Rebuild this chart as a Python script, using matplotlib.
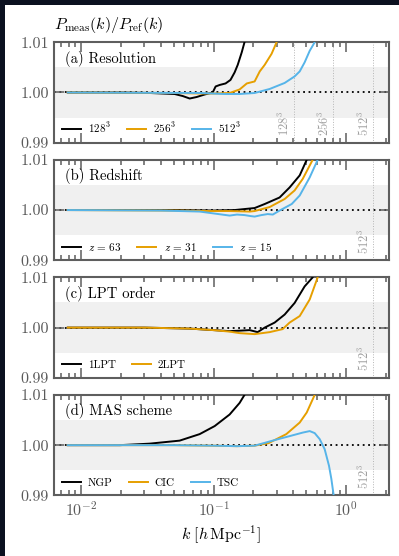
import numpy as np
import matplotlib
matplotlib.use('Agg')
import matplotlib.pyplot as plt
from matplotlib.patches import Rectangle
from matplotlib.ticker import LogLocator, FixedLocator, NullFormatter

plt.rcParams['font.family'] = 'serif'
plt.rcParams['font.serif'] = ['cmr10']
plt.rcParams['mathtext.fontset'] = 'cm'
plt.rcParams['axes.formatter.use_mathtext'] = True
plt.rcParams['axes.unicode_minus'] = False

# colours
BLACK = 'black'
ORANGE = '#E69F00'
BLUE = '#56B4E9'
EDGE = '#5e5e5e'

# nyquist wavenumbers (L = 1000 Mpc/h)
k_nyq = [0.402, 0.804, 1.608]
nyq_labels = ['$128^3$', '$256^3$', '$512^3$']

# (a) resolution
k_a128 = [0.0079, 0.02, 0.033, 0.0507, 0.0583, 0.0659, 0.0744, 0.0855, 0.0983, 0.1035, 0.111, 0.123, 0.134, 0.144, 0.152, 0.163, 0.171, 0.185]
r_a128 = [1.0, 1.0, 0.9999, 0.9997, 0.9993, 0.9988, 0.9991, 0.9996, 1.0, 1.0012, 1.0015, 1.0018, 1.0025, 1.004, 1.0055, 1.008, 1.01, 1.014]
k_a256 = [0.0079, 0.05, 0.0784, 0.1018, 0.132, 0.157, 0.178, 0.204, 0.223, 0.243, 0.274, 0.299, 0.32]
r_a256 = [1.0, 0.9999, 0.9998, 0.9998, 0.9999, 1.0006, 1.0018, 1.0022, 1.0042, 1.0055, 1.0077, 1.01, 1.012]
k_a512 = [0.0079, 0.08, 0.121, 0.157, 0.204, 0.265, 0.344, 0.409, 0.447, 0.487, 0.532, 0.58, 0.62]
r_a512 = [1.0, 0.9999, 0.9997, 0.9997, 0.9999, 1.0007, 1.0019, 1.0032, 1.0042, 1.006, 1.0083, 1.01, 1.012]

# (b) redshift
k_b63 = [0.0079, 0.05, 0.1, 0.144, 0.204, 0.243, 0.315, 0.375, 0.447, 0.505, 0.55]
r_b63 = [1.0, 1.0, 0.9999, 1.0, 1.0004, 1.0012, 1.0025, 1.0045, 1.0069, 1.01, 1.013]
k_b31 = [0.0079, 0.05, 0.1, 0.132, 0.187, 0.204, 0.265, 0.344, 0.409, 0.471, 0.56, 0.6]
r_b31 = [1.0, 0.9999, 0.9998, 0.9998, 0.9997, 0.9998, 1.0006, 1.0022, 1.0039, 1.0062, 1.01, 1.012]
k_b15 = [0.0079, 0.04, 0.0784, 0.132, 0.15, 0.171, 0.19, 0.204, 0.23, 0.256, 0.28, 0.315, 0.389, 0.447, 0.532, 0.611, 0.65]
r_b15 = [1.0, 0.9999, 0.9997, 0.9989, 0.9991, 0.9990, 0.9988, 0.9987, 0.9990, 0.9992, 0.9991, 0.9999, 1.0012, 1.0029, 1.0065, 1.01, 1.012]

# (c) LPT order
k_c1 = [0.0079, 0.03, 0.066, 0.1, 0.132, 0.16, 0.187, 0.215, 0.243, 0.289, 0.344, 0.409, 0.487, 0.56, 0.6]
r_c1 = [1.0, 1.0, 0.9998, 0.9995, 0.9993, 0.9994, 0.9995, 0.9991, 1.0, 1.001, 1.0026, 1.0049, 1.0082, 1.01, 1.012]
k_c2 = [0.0079, 0.03, 0.066, 0.1, 0.132, 0.157, 0.204, 0.265, 0.332, 0.375, 0.447, 0.532, 0.611, 0.65]
r_c2 = [1.0, 1.0, 0.9998, 0.9995, 0.9992, 0.9989, 0.9987, 0.9991, 0.9997, 1.001, 1.0023, 1.0056, 1.01, 1.012]

# (d) mass assignment
k_dngp = [0.0079, 0.0195, 0.0328, 0.0553, 0.0784, 0.1018, 0.132, 0.157, 0.171, 0.19]
r_dngp = [1.0, 1.0, 1.0003, 1.0009, 1.0022, 1.0038, 1.0061, 1.0084, 1.01, 1.0125]
k_dcic = [0.0079, 0.05, 0.1, 0.15, 0.204, 0.26, 0.354, 0.447, 0.505, 0.58, 0.62]
r_dcic = [1.0, 1.0, 0.9999, 0.9998, 0.9999, 1.0004, 1.0022, 1.0045, 1.0065, 1.01, 1.012]
k_dtsc = [0.0079, 0.05, 0.1, 0.15, 0.204, 0.279, 0.375, 0.471, 0.532, 0.58, 0.633, 0.69, 0.744, 0.775, 0.807, 0.84]
r_dtsc = [1.0, 1.0, 0.9999, 0.9998, 0.9999, 1.0009, 1.0018, 1.0025, 1.0028, 1.0024, 1.0012, 0.9992, 0.9959, 0.9933, 0.99, 0.987]

panels = [
    ('(a) Resolution', [(k_a128, r_a128, nyq_labels[0]), (k_a256, r_a256, nyq_labels[1]), (k_a512, r_a512, nyq_labels[2])], 3),
    ('(b) Redshift', [(k_b63, r_b63, '$z\\,=\\,63$'), (k_b31, r_b31, '$z\\,=\\,31$'), (k_b15, r_b15, '$z\\,=\\,15$')], 1),
    ('(c) LPT order', [(k_c1, r_c1, '1LPT'), (k_c2, r_c2, '2LPT')], 1),
    ('(d) MAS scheme', [(k_dngp, r_dngp, 'NGP'), (k_dcic, r_dcic, 'CIC'), (k_dtsc, r_dtsc, 'TSC')], 1),
]
colors = [BLACK, ORANGE, BLUE]

fig, axes = plt.subplots(4, 1, figsize=(3.99, 5.56), dpi=100, sharex=True)
fig.subplots_adjust(left=0.135, right=0.974, bottom=0.109, top=0.924, hspace=0.17)
fig.patch.set_facecolor('#0b1120')
fig.patches.append(Rectangle((5 / 399, 0), 1, 1 - 5 / 556, transform=fig.transFigure,
                             facecolor='white', edgecolor='none', zorder=-10))

for ax, (label, curves, n_nyq) in zip(axes, panels):
    ax.set_xscale('log')
    ax.axhspan(0.995, 1.005, color='#f0f0f0', lw=0, zorder=0)
    ax.axhline(1.0, color='black', ls=(0, (1, 2.0)), lw=1.3, zorder=1)
    for i in range(3 - n_nyq, 3):
        ax.axvline(k_nyq[i], color='#b5b5b5', ls=':', lw=0.7, zorder=1)
        ax.text(k_nyq[i] / 1.03, 0.9913, nyq_labels[i], rotation=90, ha='right', va='bottom',
                color='#a0a0a0', fontsize=9)
    for (k, r, lab), c in zip(curves, colors):
        ax.plot(k, r, color=c, lw=1.4, label=lab, zorder=3)
    ax.set_xlim(0.0062, 2.1)
    ax.set_ylim(0.99, 1.01)
    ax.yaxis.set_major_locator(FixedLocator([0.99, 1.0, 1.01]))
    ax.set_yticklabels(['0.99', '1.00', '1.01'])
    ax.xaxis.set_major_locator(LogLocator(base=10, numticks=10))
    ax.xaxis.set_minor_locator(LogLocator(base=10, subs=np.arange(2, 10), numticks=10))
    ax.xaxis.set_minor_formatter(NullFormatter())
    ax.tick_params(which='both', direction='in', top=True, right=True, color=EDGE,
                   labelcolor='#5a5a5a', labelsize=11.5, width=1.1)
    ax.tick_params(which='major', length=7)
    ax.tick_params(which='minor', length=3.5)
    for s in ax.spines.values():
        s.set_color(EDGE)
        s.set_linewidth(1.5)
    ax.text(0.032, 0.835, label, transform=ax.transAxes, fontsize=10.5, va='center', ha='left')
    ax.legend(loc='lower left', ncol=3, frameon=False, fontsize=8, handlelength=1.7,
              columnspacing=1.45, handletextpad=0.65, borderaxespad=0.3, borderpad=0.4)

axes[0].text(0.0, 1.07, r'$P_\mathrm{meas}(k)/P_\mathrm{ref}(k)$', transform=axes[0].transAxes,
             fontsize=11.5, ha='left', va='bottom')
axes[-1].set_xlabel(r'$k\ [h\,\mathrm{Mpc}^{-1}]$', fontsize=11.5)

plt.savefig('out.png', dpi=100, facecolor=fig.get_facecolor())
